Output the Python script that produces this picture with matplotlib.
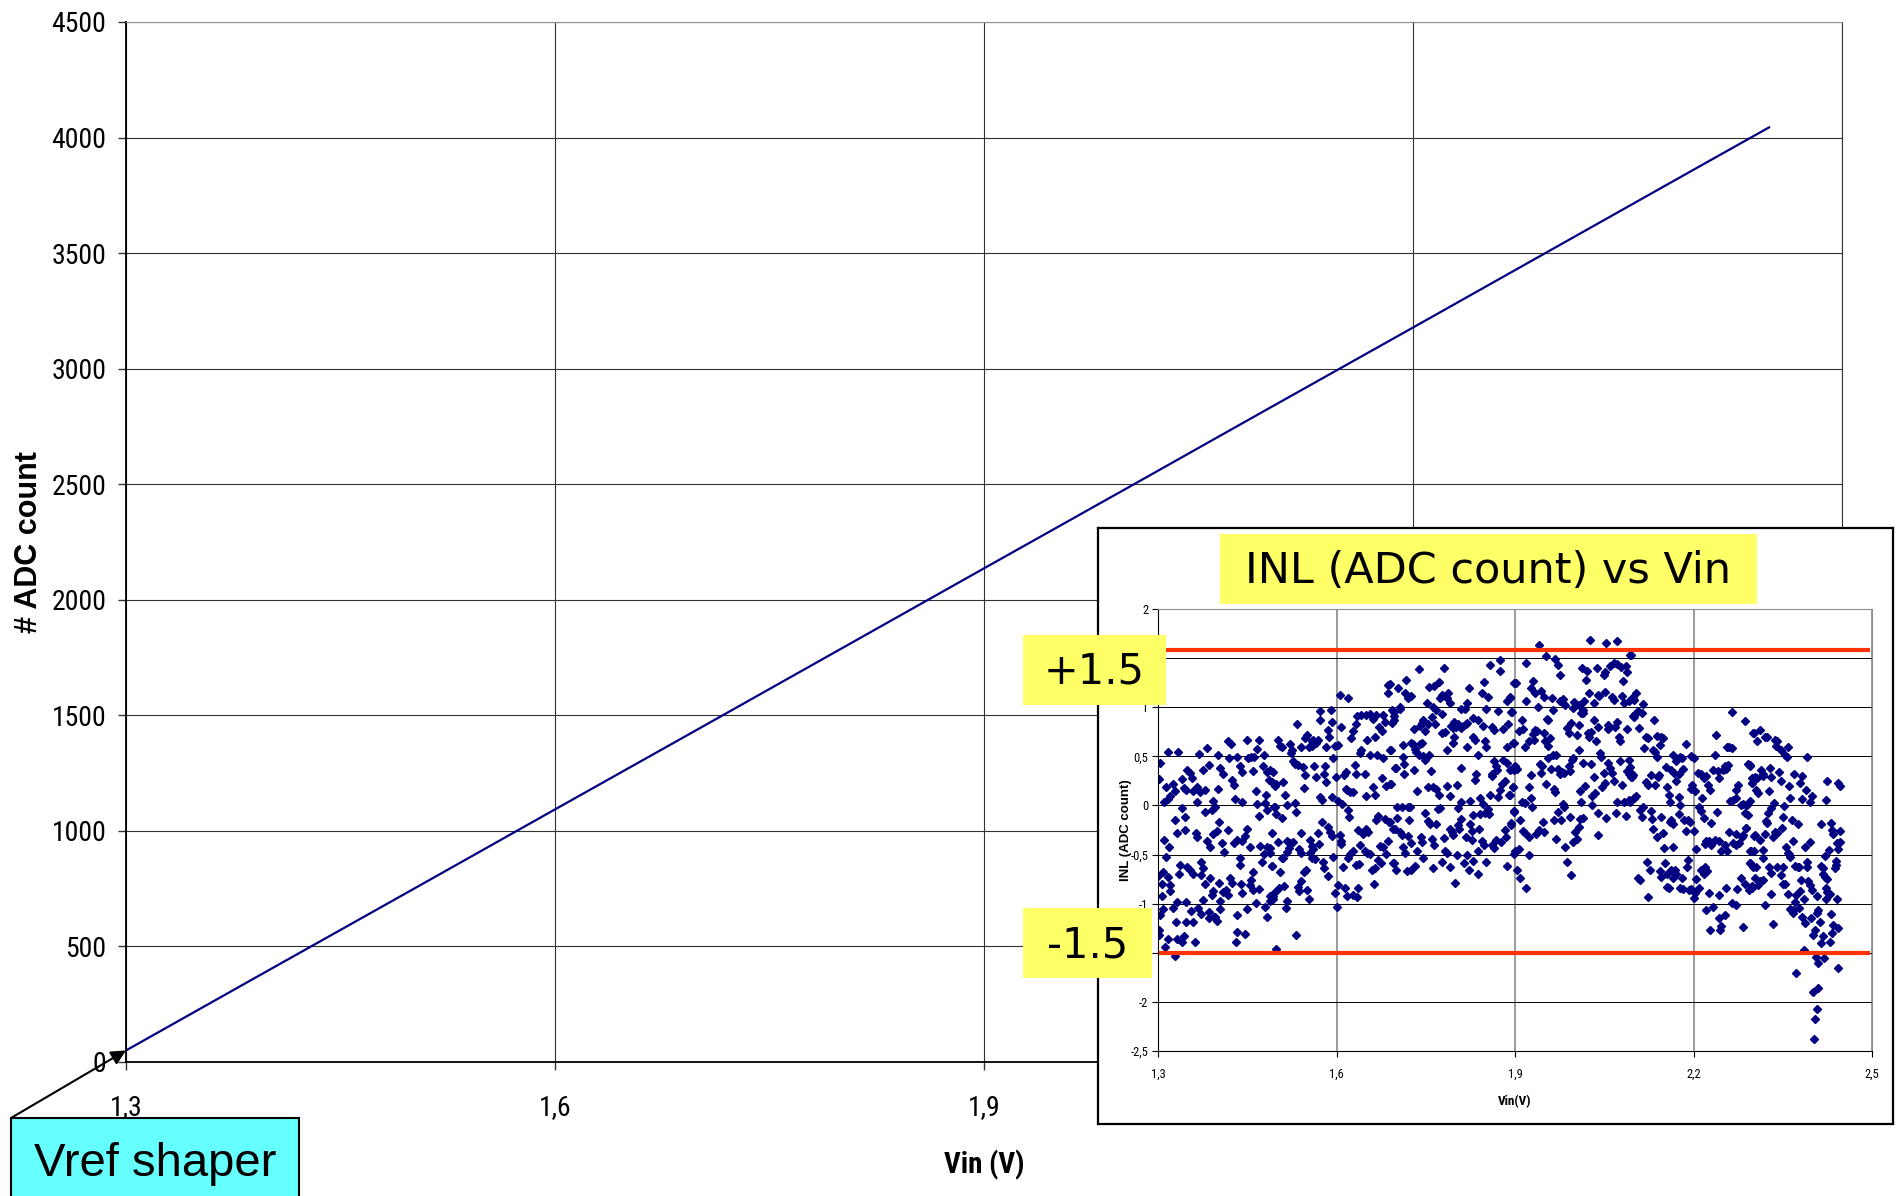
import numpy as np
import matplotlib
matplotlib.use("Agg")
import matplotlib.pyplot as plt
from matplotlib import font_manager
from matplotlib.patches import Rectangle

# --- main transfer curve (Vin vs ADC count) ---
vin_main = [1.30, 1.40, 1.50, 1.60, 1.70, 1.80, 1.90, 2.00, 2.10, 2.20, 2.30, 2.40, 2.449]
adc_main = [50, 398, 745, 1093, 1440, 1788, 2136, 2483, 2831, 3178, 3526, 3874, 4044]

main_xticks = [1.3, 1.6, 1.9, 2.2, 2.5]
main_xlabels = ["1,3", "1,6", "1,9", "2,2", "2,5"]
main_yticks = [0, 500, 1000, 1500, 2000, 2500, 3000, 3500, 4000, 4500]

inset_yticks = [2, 1.5, 1, 0.5, 0, -0.5, -1, -1.5, -2, -2.5]
# the 1,5 and -1,5 labels sit under the yellow boxes in the original
inset_ylabels = ["2", "", "1", "0,5", "0", "-0,5", "-1", "", "-2", "-2,5"]

inl_limits = [1.58, -1.505]

# --- INL points (Vin, INL), segment by segment ---
inl_a = [(1.317,0.54),(1.334,0.54),(1.304,0.43),(1.302,0.27),(1.313,0.19),(1.310,0.03),(1.326,0.22),(1.321,0.10),
 (1.329,0.15),(1.317,0.07),(1.340,0.27),(1.348,0.36),(1.353,0.33),(1.357,0.28),(1.343,0.18),(1.347,0.16),(1.359,0.15),
 (1.365,0.19),(1.371,0.14),(1.365,0.03),(1.376,0.36),(1.383,0.58),(1.386,0.41),(1.369,0.52),(1.379,0.16),(1.392,0.05),
 (1.396,-0.02),(1.390,-0.05),(1.379,-0.07),(1.401,0.17),(1.405,0.38),(1.409,0.32),(1.400,0.51),(1.417,0.66),(1.422,0.63),
 (1.420,0.48),(1.425,0.26),(1.428,0.21),(1.429,0.07),(1.433,0.49),(1.438,0.40),(1.442,0.34),(1.442,0.04),(1.449,0.67),
 (1.452,0.48),(1.457,0.49),(1.461,0.49),(1.467,0.57),(1.470,0.67),(1.476,0.40),(1.478,0.51),(1.459,0.35),(1.464,0.15),
 (1.466,0.01),(1.470,-0.11),(1.482,0.11),(1.480,0.02),(1.483,-0.05),(1.484,0.34),(1.487,0.26),(1.491,0.24),(1.493,0.34),
 (1.495,-0.02),
 (1.310,-0.35),(1.319,-0.42),(1.313,-0.52),(1.329,-0.15),(1.332,-0.28),(1.345,-0.25),(1.340,-0.03),(1.345,-0.12),
 (1.364,-0.28),(1.366,-0.32),(1.383,-0.36),(1.387,-0.42),(1.393,-0.29),(1.399,-0.26),(1.403,-0.17),(1.407,-0.38),
 (1.411,-0.47),(1.418,-0.25),(1.427,-0.38),(1.433,-0.35),(1.441,-0.36),(1.446,-0.31),(1.450,-0.24),(1.455,-0.42),
 (1.471,-0.41),(1.474,-0.58),(1.478,-0.49),(1.484,-0.42),(1.489,-0.43),(1.492,-0.62),
 (1.300,-0.72),(1.306,-0.80),(1.309,-0.68),(1.317,-0.73),(1.321,-0.81),(1.320,-0.87),(1.306,-0.92),(1.336,-0.70),
 (1.337,-0.61),(1.349,-0.63),(1.353,-0.66),(1.358,-0.70),(1.373,-0.58),(1.375,-0.64),(1.372,-0.71),(1.379,-0.80),
 (1.387,-0.74),(1.390,-0.91),(1.392,-0.87),(1.403,-0.79),(1.405,-0.97),(1.410,-0.88),(1.415,-0.86),(1.417,-0.91),
 (1.421,-0.74),(1.425,-0.79),(1.438,-0.54),(1.437,-0.61),(1.439,-0.80),(1.441,-0.89),(1.454,-0.81),(1.457,-0.76),
 (1.459,-0.68),(1.460,-0.86),(1.469,-0.85),(1.488,-0.92),(1.494,-0.95),
 (1.308,-1.05),(1.303,-1.12),(1.325,-1.04),(1.332,-0.98),(1.347,-0.98),(1.355,-1.07),(1.368,-1.04),(1.376,-0.96),
 (1.372,-1.11),(1.386,-1.08),(1.394,-1.14),(1.399,-1.18),(1.404,-1.05),(1.432,-1.12),(1.450,-1.05),(1.465,-0.99),
 (1.480,-1.03),(1.483,-1.14),
 (1.301,-1.27),(1.302,-1.32),(1.316,-1.36),(1.312,-1.44),(1.329,-1.53),(1.332,-1.36),(1.340,-1.39),(1.343,-1.33),
 (1.362,-1.39),(1.331,-1.19),(1.347,-1.19),(1.358,-1.19),(1.385,-1.15),(1.396,-1.14),(1.433,-1.29),(1.431,-1.39),
 (1.446,-1.31)]

inl_b = [(1.687,1.23),(1.687,1.14),(1.606,1.12),(1.620,1.09),(1.572,0.96),(1.590,0.97),(1.573,0.87),(1.592,0.85),
 (1.608,0.80),(1.586,0.77),(1.588,0.70),(1.534,0.83),(1.550,0.72),(1.547,0.69),(1.558,0.66),(1.561,0.67),(1.566,0.64),
 (1.569,0.67),(1.502,0.67),(1.505,0.61),(1.508,0.59),(1.522,0.63),(1.526,0.56),(1.523,0.53),(1.541,0.59),(1.554,0.59),
 (1.558,0.61),(1.583,0.60),(1.597,0.61),(1.603,0.62),(1.624,0.69),(1.627,0.76),(1.632,0.83),(1.635,0.91),(1.642,0.92),
 (1.650,0.92),(1.656,0.93),(1.662,0.88),(1.667,0.92),(1.678,0.92),(1.681,0.85),(1.672,0.80),(1.676,0.76),(1.664,0.70),
 (1.652,0.67),(1.642,0.56),(1.639,0.53),(1.656,0.51),(1.668,0.51),(1.678,0.48),(1.691,0.56),(1.696,0.95),(1.696,0.87),
 (1.488,0.36),(1.494,0.23),(1.499,0.22),(1.496,0.20),(1.510,0.24),(1.513,0.11),(1.527,0.45),(1.530,0.42),(1.536,0.41),
 (1.544,0.39),(1.547,0.31),(1.562,0.40),(1.580,0.40),(1.579,0.32),(1.566,0.29),(1.583,0.24),(1.546,0.18),(1.594,0.48),
 (1.599,0.29),(1.612,0.31),(1.616,0.34),(1.631,0.41),(1.632,0.32),(1.618,0.16),(1.622,0.14),(1.628,0.14),(1.616,0.17),
 (1.648,0.32),(1.649,0.10),(1.662,0.19),(1.664,0.11),(1.677,0.28),(1.683,0.20),(1.691,0.22),(1.698,0.38),(1.573,0.09),
 (1.575,0.06),(1.593,0.09),(1.602,0.05),(1.610,0.01),(1.516,0.00),(1.530,0.02),(1.532,-0.07),(1.499,-0.09),(1.508,-0.13),
 (1.496,-0.02),
 (1.576,-0.17),(1.586,-0.22),(1.589,-0.27),(1.592,-0.31),(1.492,-0.28),(1.502,-0.37),(1.517,-0.36),(1.522,-0.38),
 (1.527,-0.37),(1.520,-0.43),(1.541,-0.28),(1.555,-0.35),(1.558,-0.41),(1.569,-0.28),(1.571,-0.39),(1.606,-0.30),
 (1.607,-0.36),(1.607,-0.39),(1.620,-0.05),(1.621,-0.12),(1.636,-0.25),(1.645,-0.29),(1.650,-0.24),(1.653,-0.27),
 (1.639,-0.40),(1.667,-0.15),(1.670,-0.11),(1.681,-0.14),(1.688,-0.17),(1.695,-0.24),(1.673,-0.41),(1.678,-0.42),
 (1.687,-0.36),
 (1.488,-0.48),(1.491,-0.62),(1.510,-0.53),(1.508,-0.54),(1.517,-0.47),(1.537,-0.44),(1.540,-0.48),(1.555,-0.48),
 (1.561,-0.44),(1.558,-0.53),(1.564,-0.55),(1.578,-0.58),(1.579,-0.64),(1.586,-0.72),(1.594,-0.52),(1.611,-0.63),
 (1.620,-0.54),(1.622,-0.49),(1.628,-0.46),(1.632,-0.61),(1.638,-0.60),(1.648,-0.46),(1.652,-0.48),(1.656,-0.49),
 (1.659,-0.66),(1.664,-0.64),(1.670,-0.56),(1.674,-0.59),(1.683,-0.49),(1.695,-0.59),
 (1.505,-0.68),(1.504,-0.84),(1.512,-0.82),(1.494,-0.92),(1.496,-0.88),(1.488,-0.97),(1.536,-0.83),(1.537,-0.87),
 (1.541,-0.77),(1.545,-0.68),(1.548,-0.66),(1.551,-0.86),(1.554,-0.95),(1.515,-1.04),(1.517,-0.97),(1.603,-0.81),
 (1.597,-0.89),(1.614,-0.84),(1.627,-0.91),(1.618,-0.92),(1.636,-0.84),(1.635,-0.93),(1.663,-0.80),(1.600,-1.03),
 (1.532,-1.32),(1.498,-1.46)]

inl_c = [(1.738,1.39),(1.781,1.40),(1.858,1.43),(1.875,1.48),(1.875,1.37),(1.717,1.28),(1.704,1.20),(1.690,1.24),
 (1.715,1.14),(1.721,1.09),(1.725,1.11),(1.756,1.21),(1.764,1.22),(1.773,1.26),(1.777,1.12),(1.774,1.09),(1.788,1.14),
 (1.786,1.09),(1.791,1.04),(1.752,1.04),(1.763,1.00),(1.768,0.97),(1.777,0.93),(1.823,1.20),(1.820,1.04),(1.809,0.98),
 (1.816,0.98),(1.844,1.14),(1.848,1.26),(1.855,1.10),(1.852,0.98),(1.872,0.96),(1.886,1.06),(1.892,1.09),(1.898,1.25),
 (1.894,0.95),(1.694,0.97),(1.696,0.91),(1.693,0.84),(1.706,0.98),(1.707,1.00),(1.730,0.78),(1.740,0.81),(1.745,0.87),
 (1.743,0.84),(1.754,0.83),(1.749,0.76),(1.760,0.90),(1.766,0.83),(1.778,0.74),(1.782,0.75),(1.792,0.81),(1.795,0.79),
 (1.798,0.85),(1.801,0.80),(1.805,0.83),(1.810,0.79),(1.813,0.81),(1.818,0.83),(1.820,0.84),(1.829,0.89),(1.838,0.87),
 (1.847,0.81),(1.861,0.80),(1.865,0.77),(1.879,0.78),(1.889,0.83),(1.798,0.70),(1.796,0.64),(1.786,0.56),(1.819,0.60),
 (1.830,0.70),(1.833,0.67),(1.850,0.66),(1.852,0.59),(1.886,0.59),(1.897,0.64),
 (1.690,0.56),(1.711,0.62),(1.726,0.64),(1.729,0.63),(1.732,0.57),(1.740,0.63),(1.743,0.64),(1.734,0.54),(1.738,0.51),
 (1.746,0.50),(1.749,0.46),(1.756,0.51),(1.712,0.49),(1.714,0.42),(1.700,0.38),(1.714,0.32),(1.730,0.36),(1.758,0.35),
 (1.810,0.38),(1.837,0.51),(1.834,0.32),(1.833,0.26),(1.864,0.45),(1.868,0.40),(1.869,0.36),(1.861,0.32),(1.880,0.46),
 (1.886,0.43),(1.892,0.36),(1.898,0.39),(1.690,0.22),(1.736,0.15),(1.754,0.19),(1.762,0.19),(1.768,0.17),(1.773,0.11),
 (1.785,0.20),(1.790,0.10),(1.802,0.21),(1.810,0.04),(1.824,0.05),(1.842,0.08),(1.846,0.01),(1.862,0.30),(1.858,0.11),
 (1.872,0.09),(1.875,0.16),(1.878,0.22),(1.883,0.25),(1.890,0.11),(1.896,0.19),(1.898,-0.06),
 (1.701,-0.02),(1.710,-0.02),(1.721,-0.02),(1.724,-0.02),(1.702,-0.13),(1.690,-0.17),(1.698,-0.24),(1.706,-0.27),
 (1.710,-0.30),(1.722,-0.15),(1.721,-0.31),(1.711,-0.42),(1.715,-0.48),(1.725,-0.38),(1.736,-0.46),(1.742,-0.32),
 (1.743,-0.37),(1.749,-0.08),(1.754,-0.16),(1.757,-0.19),(1.767,-0.19),(1.760,-0.34),(1.764,-0.40),(1.771,-0.04),
 (1.774,-0.03),(1.781,-0.33),(1.782,-0.46),(1.785,-0.48),(1.790,-0.24),(1.794,-0.27),(1.795,-0.30),(1.802,-0.50),
 (1.805,-0.20),(1.806,-0.24),(1.809,-0.14),(1.805,-0.03),(1.818,-0.32),(1.820,-0.50),(1.824,-0.19),(1.827,-0.26),
 (1.827,-0.35),(1.830,-0.10),(1.837,-0.46),(1.840,-0.24),(1.841,-0.09),(1.844,-0.36),(1.848,-0.40),(1.850,-0.08),
 (1.854,-0.04),(1.857,-0.09),(1.861,-0.40),(1.865,-0.43),(1.868,-0.35),(1.876,-0.37),(1.883,-0.25),(1.885,-0.32),
 (1.893,-0.20),(1.898,-0.07),(1.898,-0.49),(1.696,-0.59),(1.700,-0.66),(1.719,-0.67),(1.726,-0.66),(1.732,-0.62),
 (1.746,-0.53),(1.762,-0.64),(1.778,-0.58),(1.791,-0.63),(1.799,-0.79),(1.814,-0.59),(1.823,-0.66),(1.829,-0.57),
 (1.838,-0.70),(1.852,-0.58),(1.886,-0.62)]

inl_d = [(1.941,1.63),(2.026,1.68),(2.053,1.65),(2.072,1.67),(1.919,1.45),(1.952,1.52),(1.968,1.49),(1.973,1.43),
 (1.976,1.33),(2.012,1.40),(2.021,1.37),(2.020,1.28),(2.038,1.40),(2.049,1.33),(2.052,1.36),(2.060,1.42),(2.066,1.45),
 (2.072,1.44),(2.078,1.41),(2.087,1.42),(2.089,1.36),(2.081,1.27),(2.095,1.53),
 (1.902,1.25),(1.930,1.27),(1.927,1.20),(1.934,1.14),(1.944,1.17),(1.948,1.10),(1.962,1.09),(1.976,1.06),(1.980,1.08),
 (1.984,1.02),(1.999,1.05),(1.998,0.99),(2.007,1.02),(2.011,0.94),(2.016,1.06),(2.015,0.97),(2.024,1.14),(2.032,1.04),
 (2.039,1.12),(2.042,1.11),(2.052,1.15),(2.063,1.10),(2.067,1.07),(2.080,1.11),(2.084,1.04),(2.092,1.06),(2.098,1.09),
 (1.892,1.10),(1.895,0.95),(1.918,1.06),(1.938,1.00),
 (1.912,0.87),(1.914,0.78),(1.906,0.76),(1.898,0.64),(1.917,0.60),(1.923,0.66),(1.931,0.73),(1.934,0.77),(1.937,0.76),
 (1.932,0.67),(1.948,0.74),(1.951,0.66),(1.956,0.61),(1.959,0.69),(1.954,0.88),(1.956,0.87),(1.964,0.97),(1.987,0.79),
 (1.990,0.74),(1.994,0.84),(2.004,0.72),(2.007,0.82),(2.014,0.94),(2.022,0.74),(2.025,0.70),(2.028,0.75),(2.033,0.87),
 (2.036,0.66),(2.039,0.80),(2.056,0.78),(2.057,0.82),(2.068,0.80),(2.072,0.85),(2.074,0.70),(2.077,0.66),(2.088,0.78),
 (2.100,0.90),(2.098,0.91),
 (1.900,0.40),(1.904,0.37),(1.898,0.36),(1.896,0.19),(1.892,0.11),(1.923,0.19),(1.927,0.31),(1.942,0.42),(1.945,0.40),
 (1.944,0.33),(1.952,0.22),(1.956,0.48),(1.960,0.37),(1.964,0.51),(1.969,0.51),(1.965,0.17),(1.968,0.14),(1.973,0.37),
 (1.976,0.32),(1.979,0.34),(1.982,0.33),(1.990,0.40),(1.993,0.35),(1.996,0.46),(1.998,0.48),(2.007,0.56),(2.010,0.15),
 (2.011,0.04),(2.014,0.43),(2.018,0.20),(2.028,0.42),(2.032,0.29),(2.029,0.10),(2.035,0.13),(2.043,0.53),(2.044,0.49),
 (2.046,0.19),(2.049,0.33),(2.052,0.23),(2.056,0.43),(2.059,0.38),(2.063,0.33),(2.067,0.25),(2.071,0.04),(2.077,0.45),
 (2.080,0.21),(2.088,0.35),(2.091,0.46),(2.092,0.32),(2.095,0.29),(2.098,0.31),(2.100,0.08),(2.092,0.06),(2.084,0.03),
 (1.893,-0.18),(1.898,-0.06),(1.908,-0.15),(1.912,0.03),(1.917,0.02),(1.913,-0.26),(1.916,-0.28),(1.923,-0.32),
 (1.927,0.08),(1.928,-0.02),(1.936,-0.29),(1.940,-0.25),(1.947,-0.17),(1.949,-0.27),(1.966,-0.15),(1.969,-0.34),
 (1.972,-0.07),(1.978,-0.15),(1.980,0.01),(1.982,-0.02),(1.984,-0.42),(1.992,-0.12),(1.997,-0.37),(2.001,-0.27),
 (2.004,-0.34),(2.007,-0.22),(2.010,-0.14),(2.014,-0.13),(2.030,0.00),(2.040,-0.08),(2.040,-0.30),(2.053,-0.13),
 (2.070,-0.08),(2.087,-0.11),
 (1.900,-0.46),(1.906,-0.44),(1.923,-0.50),(1.903,-0.66),(1.909,-0.74),(1.919,-0.84),(1.988,-0.58),(1.994,-0.71)]

inl_e = [(2.093,1.53),(2.103,1.14),(2.096,1.09),(2.100,1.07),(2.115,1.03),(2.107,0.96),(2.101,0.93),(2.113,0.94),
 (2.109,0.79),(2.133,0.87),(2.121,0.70),(2.124,0.69),(2.117,0.58),(2.138,0.71),(2.146,0.70),(2.149,0.69),(2.143,0.62),
 (2.132,0.56),(2.135,0.54),(2.139,0.49),(2.188,0.63),(2.093,0.39),(2.097,0.32),(2.096,0.29),(2.093,0.04),(2.100,0.08),
 (2.103,0.10),(2.120,0.24),(2.124,0.21),(2.129,0.31),(2.135,0.21),(2.141,0.29),(2.142,0.31),(2.153,0.39),(2.156,0.19),
 (2.159,0.11),(2.160,0.04),(2.165,0.51),(2.163,0.36),(2.167,0.33),(2.171,0.45),(2.177,0.49),(2.180,0.48),(2.176,0.32),
 (2.183,0.37),(2.170,0.25),(2.176,0.09),(2.195,0.50),(2.201,0.48),(2.198,0.21),(2.195,0.17),(2.202,0.15),(2.208,0.33),
 (2.212,0.32),(2.217,0.28),(2.221,0.30),(2.215,0.08),(2.225,0.21),(2.227,0.16),(2.233,0.36),(2.236,0.51),(2.241,0.35),
 (2.243,0.28),(2.249,0.36),(2.253,0.40),(2.255,0.37),(2.258,0.41),(2.261,0.05),(2.264,0.58),(2.260,0.59),(2.267,0.06),
 (2.271,0.16),(2.272,0.08),(2.275,0.21),(2.279,0.00),(2.283,0.01),(2.288,0.00),(2.290,0.00),(2.292,0.42),(2.295,0.40),
 (2.299,0.23),(2.299,0.28),(2.237,0.72),(2.257,0.59),(2.265,0.95),(2.286,0.86),(2.300,0.74),
 (2.115,-0.02),(2.110,-0.05),(2.114,-0.12),(2.128,-0.06),(2.131,-0.14),(2.132,-0.24),(2.138,-0.32),(2.146,-0.12),
 (2.149,-0.28),(2.150,-0.43),(2.160,-0.17),(2.163,-0.15),(2.166,-0.19),(2.166,-0.42),(2.177,0.00),(2.176,-0.09),
 (2.184,-0.15),(2.187,-0.26),(2.191,-0.15),(2.194,-0.17),(2.201,-0.26),(2.205,-0.44),(2.209,-0.02),(2.213,-0.06),
 (2.217,-0.13),(2.219,-0.39),(2.221,-0.36),(2.226,-0.36),(2.229,-0.40),(2.230,-0.18),(2.236,-0.35),(2.240,-0.07),
 (2.243,-0.36),(2.247,-0.46),(2.253,-0.40),(2.260,-0.27),(2.257,-0.46),(2.267,-0.38),(2.271,-0.29),(2.272,-0.40),
 (2.277,-0.38),(2.281,-0.32),(2.283,-0.30),(2.288,-0.23),(2.286,-0.08),(2.289,-0.23),(2.292,-0.10),(2.296,-0.46),
 (2.301,-0.31),
 (2.122,-0.58),(2.127,-0.66),(2.107,-0.74),(2.110,-0.76),(2.143,-0.67),(2.146,-0.73),(2.152,-0.59),(2.155,-0.70),
 (2.163,-0.66),(2.169,-0.66),(2.171,-0.70),(2.166,-0.74),(2.180,-0.74),(2.156,-0.83),(2.159,-0.84),(2.177,-0.84),
 (2.183,-0.85),(2.193,-0.86),(2.195,-0.85),(2.189,-0.63),(2.191,-0.56),(2.205,-0.75),(2.209,-0.84),(2.202,-0.89),
 (2.201,-0.94),(2.212,-0.66),(2.219,-0.63),(2.222,-0.67),(2.217,-0.70),(2.124,-0.93),(2.226,-0.89),(2.232,-1.03),
 (2.221,-1.06),(2.243,-0.91),(2.255,-0.84),(2.264,-0.99),(2.272,-1.01),(2.273,-0.85),(2.279,-0.74),(2.286,-0.80),
 (2.293,-0.86),(2.299,-0.82),(2.295,-0.59),(2.300,-0.63),(2.227,-1.27),(2.243,-1.15),(2.247,-1.23),(2.253,-1.12),
 (2.245,-1.27),(2.283,-1.24)]

inl_f = [(2.301,0.74),(2.307,0.66),(2.312,0.77),(2.320,0.70),(2.323,0.70),(2.337,0.67),(2.341,0.66),(2.339,0.61),
 (2.347,0.56),(2.354,0.51),(2.357,0.49),(2.359,0.60),(2.390,0.49),(2.295,0.41),(2.303,0.29),(2.307,0.28),(2.299,0.23),
 (2.305,0.16),(2.309,0.13),(2.295,0.05),(2.313,0.36),(2.316,0.32),(2.317,0.30),(2.329,0.38),(2.330,0.29),(2.327,0.15),
 (2.344,0.34),(2.347,0.25),(2.361,0.20),(2.363,0.08),(2.369,0.32),(2.379,0.23),(2.382,0.07),(2.383,0.30),(2.389,0.16),
 (2.396,0.03),(2.399,0.10),(2.423,0.06),(2.425,0.25),(2.443,0.23),(2.446,0.20),(2.335,0.02),(2.331,-0.03),(2.326,-0.08),
 (2.324,-0.18),(2.322,-0.16),(2.352,-0.01),(2.350,-0.12),(2.349,-0.23),(2.365,-0.15),(2.375,-0.19),(2.414,-0.19),
 (2.431,-0.18),(2.432,-0.25),(2.434,-0.29),(2.447,-0.26),(2.303,-0.30),(2.312,-0.35),(2.320,-0.29),(2.333,-0.32),
 (2.337,-0.27),(2.341,-0.28),(2.367,-0.36),(2.442,-0.38),(2.443,-0.44),(2.446,-0.37),(2.396,-0.37),(2.387,-0.42),
 (2.295,-0.46),(2.302,-0.46),(2.316,-0.45),(2.355,-0.42),(2.358,-0.48),(2.361,-0.49),(2.363,-0.52),(2.421,-0.51),
 (2.428,-0.45),(2.295,-0.59),(2.305,-0.63),(2.316,-0.54),(2.327,-0.63),(2.330,-0.69),(2.341,-0.63),(2.351,-0.63),
 (2.347,-0.71),(2.350,-0.80),(2.354,-0.80),(2.371,-0.62),(2.375,-0.63),(2.378,-0.63),(2.390,-0.58),(2.391,-0.63),
 (2.414,-0.62),(2.417,-0.64),(2.417,-0.70),(2.421,-0.73),(2.425,-0.75),(2.439,-0.57),(2.438,-0.64),(2.439,-0.61),
 (2.380,-0.76),(2.393,-0.77),(2.396,-0.81),(2.399,-0.86),(2.407,-0.92),(2.423,-0.84),(2.425,-0.88),(2.429,-0.90),
 (2.423,-0.95),(2.441,-0.95),(2.298,-0.84),(2.309,-0.81),(2.312,-0.77),(2.303,-0.74),(2.316,-0.76),(2.331,-0.90),
 (2.320,-1.01),(2.359,-0.90),(2.372,-0.91),(2.379,-0.87),(2.385,-0.95),(2.371,-0.98),(2.378,-1.04),(2.367,-1.06),
 (2.363,-1.05),(2.368,-1.09),(2.383,-1.14),(2.387,-1.20),(2.397,-1.15),(2.407,-1.10),(2.410,-1.06),(2.413,-1.19),
 (2.431,-1.11),(2.334,-1.21),(2.404,-1.27),(2.400,-1.32),(2.417,-1.33),(2.414,-1.40),(2.432,-1.30),(2.435,-1.22),
 (2.443,-1.25),(2.429,-1.39),(2.406,-1.54),(2.410,-1.60),(2.419,-1.55),(2.443,-1.66),(2.385,-1.47),(2.373,-1.71),
 (2.400,-1.90),(2.410,-1.86),(2.407,-2.07),(2.404,-2.17),(2.403,-2.38)]

# --- figure geometry (pixels of the 1899x1196 output) ---
W, H = 1899, 1196


def fx(px):
    return px / W


def fy(py):
    return 1 - py / H


names = {f.name for f in font_manager.fontManager.ttflist}
narrow, ns = "Liberation Sans", 0.9
for cand, scale in [("Liberation Sans Narrow", 1.0), ("Arial Narrow", 1.0), ("Roboto Condensed", 0.95)]:
    if cand in names:
        narrow, ns = cand, scale
        break

plt.rcParams["font.family"] = ["Liberation Sans", "DejaVu Sans"]

fig = plt.figure(figsize=(W / 100, H / 100), dpi=100)

# main chart
ax = fig.add_axes([fx(126), fy(1062), fx(1842) - fx(126), fy(22) - fy(1062)])
ax.plot(vin_main, adc_main, color="#000080", lw=1.6)
ax.set_xlim(1.3, 2.5)
ax.set_ylim(0, 4500)
ax.set_xticks(main_xticks)
ax.set_xticklabels(main_xlabels)
ax.set_yticks(main_yticks)
ax.grid(True, color="#333333", lw=0.8)
ax.set_axisbelow(True)
ax.tick_params(axis="both", direction="out", length=6, width=1, labelsize=21 * ns, color="#333333")
ax.tick_params(axis="x", pad=17)
ax.tick_params(axis="y", pad=8)
for lab in ax.get_xticklabels() + ax.get_yticklabels():
    lab.set_fontfamily(narrow)
ax.spines["top"].set_color("#909090")
ax.spines["right"].set_color("#333333")
ax.spines["left"].set_linewidth(1.3)
ax.spines["bottom"].set_linewidth(1.3)
ax.set_ylabel("# ADC count", fontsize=22, fontweight="bold")
ax.yaxis.set_label_coords(-0.048, 0.5)
ax.set_xlabel("Vin (V)", fontsize=22 * ns, fontweight="bold", family=narrow)
ax.xaxis.set_label_coords(0.5, -0.085)

# inset frame
frame = fig.add_axes([fx(1098), fy(1124), fx(1893) - fx(1098), fy(528) - fy(1124)])
frame.set_xticks([])
frame.set_yticks([])
frame.set_facecolor("white")
for s in frame.spines.values():
    s.set_linewidth(1.6)
    s.set_color("black")
frame.set_zorder(2)

# inset INL plot
ax2 = fig.add_axes([fx(1158), fy(1051), fx(1872) - fx(1158), fy(609) - fy(1051)])
ax2.set_zorder(3)
ax2.set_facecolor("none")
pts = inl_a + inl_b + inl_c + inl_d + inl_e + inl_f
vx = [p[0] for p in pts]
vy = [p[1] for p in pts]
ax2.plot(vx, vy, ls="none", marker="D", ms=3.8, color="#000080", mec="#000080")
for lim in inl_limits:
    ax2.axhline(lim, xmin=0.003, xmax=0.995, color="#FF3300", lw=3)
ax2.set_xlim(1.3, 2.5)
ax2.set_ylim(-2.5, 2)
ax2.set_xticks(main_xticks)
ax2.set_xticklabels(main_xlabels)
ax2.set_yticks(inset_yticks)
ax2.set_yticklabels(inset_ylabels)
ax2.grid(True, axis="y", color="black", lw=0.7)
ax2.grid(True, axis="x", color="#808080", lw=1.1)
ax2.set_axisbelow(True)
ax2.tick_params(direction="out", length=4, width=0.8, labelsize=9.5 * ns)
ax2.tick_params(axis="x", pad=8)
ax2.tick_params(axis="y", pad=3)
for lab in ax2.get_xticklabels() + ax2.get_yticklabels():
    lab.set_fontfamily(narrow)
ax2.spines["top"].set_color("#909090")
ax2.spines["right"].set_color("#909090")
ax2.set_ylabel("INL (ADC count)", fontsize=9.5, fontweight="bold")
ax2.yaxis.set_label_coords(-0.036, 0.5)
ax2.set_xlabel("Vin(V)", fontsize=10 * ns, fontweight="bold", family=narrow)
ax2.xaxis.set_label_coords(0.5, -0.0995)

# yellow labels
boxes = [
    ((1220, 534, 1757, 604), "INL (ADC count) vs Vin", 31),
    ((1023, 635, 1166, 705), "+1.5", 30),
    ((1023, 908, 1152, 978), "-1.5", 30),
]
for (x0, y0, x1, y1), txt, size in boxes:
    fig.add_artist(Rectangle((fx(x0), fy(y1)), fx(x1) - fx(x0), fy(y0) - fy(y1),
                             transform=fig.transFigure, facecolor="#FFFF66",
                             edgecolor="none", zorder=5))
    fig.text(fx((x0 + x1) / 2), fy((y0 + y1) / 2 + 2), txt, ha="center", va="center",
             fontsize=size, family="DejaVu Sans", zorder=6)

# Vref shaper callout
fig.add_artist(Rectangle((fx(11), -0.01), fx(299) - fx(11), fy(1118) + 0.01,
                         transform=fig.transFigure, facecolor="#66FFFF",
                         edgecolor="black", lw=1.5, zorder=5))
fig.text(fx(155), fy(1164), "Vref shaper", ha="center", va="center", fontsize=34, zorder=6)
ax.annotate("", xy=(vin_main[0], adc_main[0]), xycoords="data",
            xytext=(fx(11), fy(1118)), textcoords="figure fraction",
            arrowprops=dict(arrowstyle="-|>", color="black", lw=1.5, mutation_scale=22,
                            shrinkA=0, shrinkB=0),
            annotation_clip=False, zorder=6)

fig.savefig("out.png", dpi=100)
